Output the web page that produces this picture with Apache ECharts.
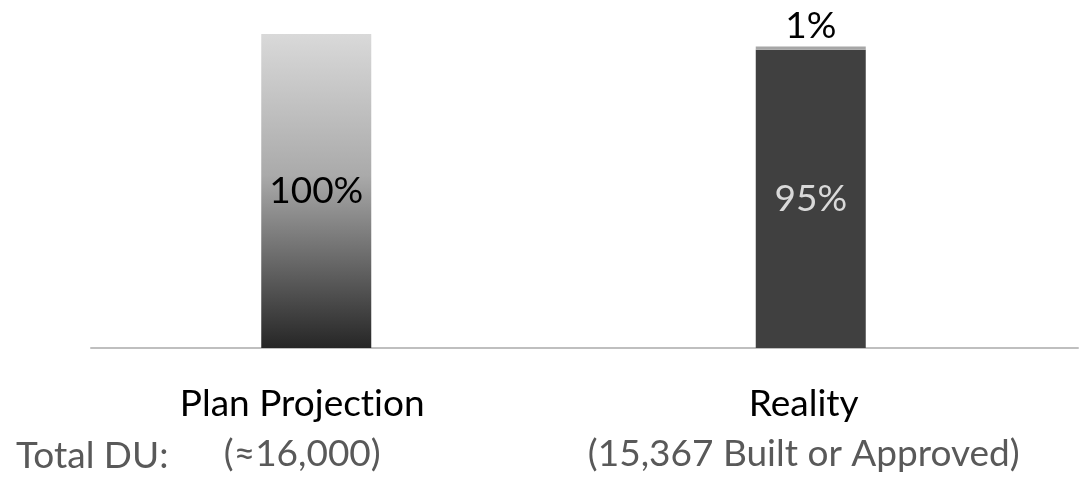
<!DOCTYPE html>
<html>
<head>
<meta charset="utf-8">
<script src="https://cdn.jsdelivr.net/npm/echarts@6/dist/echarts.min.js"></script>
<style>
  html, body { margin: 0; padding: 0; background: #fff; }
  #main { width: 1079px; height: 479px; }
</style>
</head>
<body>
<div id="main"></div>
<script>
  // chart data
  var categories = ['Plan Projection', 'Reality'];
  var subLabels = ['(≈16,000)', '(15,367 Built or Approved)'];
  var labelShift = [28, 14]; // pulls labels a bit left of the bar centre
  var planValues = [100, '-'];
  var builtValues = ['-', 95];
  var approvedValues = ['-', 1];

  var font = 'Lato';
  var fs = 37;
  var myChart = echarts.init(document.getElementById('main'));

  // keep canvas from joining "ti" into a ligature
  function noLig(s) { return s.replace(/ti/g, 't\u200ci'); }

  var axisData = categories.map(function (name, i) {
    return { value: name, textStyle: { padding: [0, labelShift[i], 0, 0] } };
  });

  myChart.setOption({
    animation: false,
    textStyle: { fontFamily: font },
    grid: [
      { left: 69, right: 21, top: 34, bottom: 131 },
      { left: 91, right: 1, top: 34, bottom: 131 }
    ],
    xAxis: [
      {
        type: 'category',
        gridIndex: 0,
        data: axisData,
        axisLine: { show: false },
        axisTick: { show: false },
        axisLabel: {
          margin: 31,
          formatter: function (value, i) {
            return '{a|' + noLig(value) + '}\n{b|' + subLabels[i] + '}';
          },
          rich: {
            a: { fontFamily: font, fontSize: fs, color: '#000', lineHeight: 50 },
            b: { fontFamily: font, fontSize: fs, color: '#595959', lineHeight: 50 }
          }
        }
      },
      {
        type: 'value',
        gridIndex: 1,
        axisLine: { show: true, onZero: false, lineStyle: { color: '#bfbfbf', width: 2 } },
        axisTick: { show: false },
        axisLabel: { show: false },
        splitLine: { show: false }
      }
    ],
    yAxis: [
      { type: 'value', gridIndex: 0, min: 0, max: 100, show: false },
      { type: 'value', gridIndex: 1, show: false }
    ],
    graphic: [
      {
        type: 'text',
        left: 16,
        top: 438,
        style: { text: 'Total DU:', fontFamily: font, fontSize: fs, fill: '#595959' }
      }
    ],
    series: [
      {
        name: 'Plan',
        type: 'bar',
        stack: 'du',
        barWidth: 110,
        data: planValues,
        itemStyle: {
          color: new echarts.graphic.LinearGradient(0, 0, 0, 1, [
            { offset: 0, color: '#d9d9d9' },
            { offset: 0.45, color: '#aaaaaa' },
            { offset: 1, color: '#262626' }
          ])
        },
        label: {
          show: true,
          position: 'inside',
          formatter: '{c}%',
          fontFamily: font,
          fontSize: fs,
          color: '#000'
        }
      },
      {
        name: 'Built',
        type: 'bar',
        stack: 'du',
        barWidth: 110,
        data: builtValues,
        itemStyle: { color: '#404040' },
        label: {
          show: true,
          position: 'inside',
          formatter: '{c}%',
          fontFamily: font,
          fontSize: fs,
          color: '#d9d9d9'
        }
      },
      {
        name: 'Approved',
        type: 'bar',
        stack: 'du',
        barWidth: 110,
        data: approvedValues,
        itemStyle: { color: '#a6a6a6' },
        label: {
          show: true,
          position: 'top',
          distance: 2,
          formatter: '{c}%',
          fontFamily: font,
          fontSize: fs,
          color: '#000'
        }
      }
    ]
  });
</script>
</body>
</html>
